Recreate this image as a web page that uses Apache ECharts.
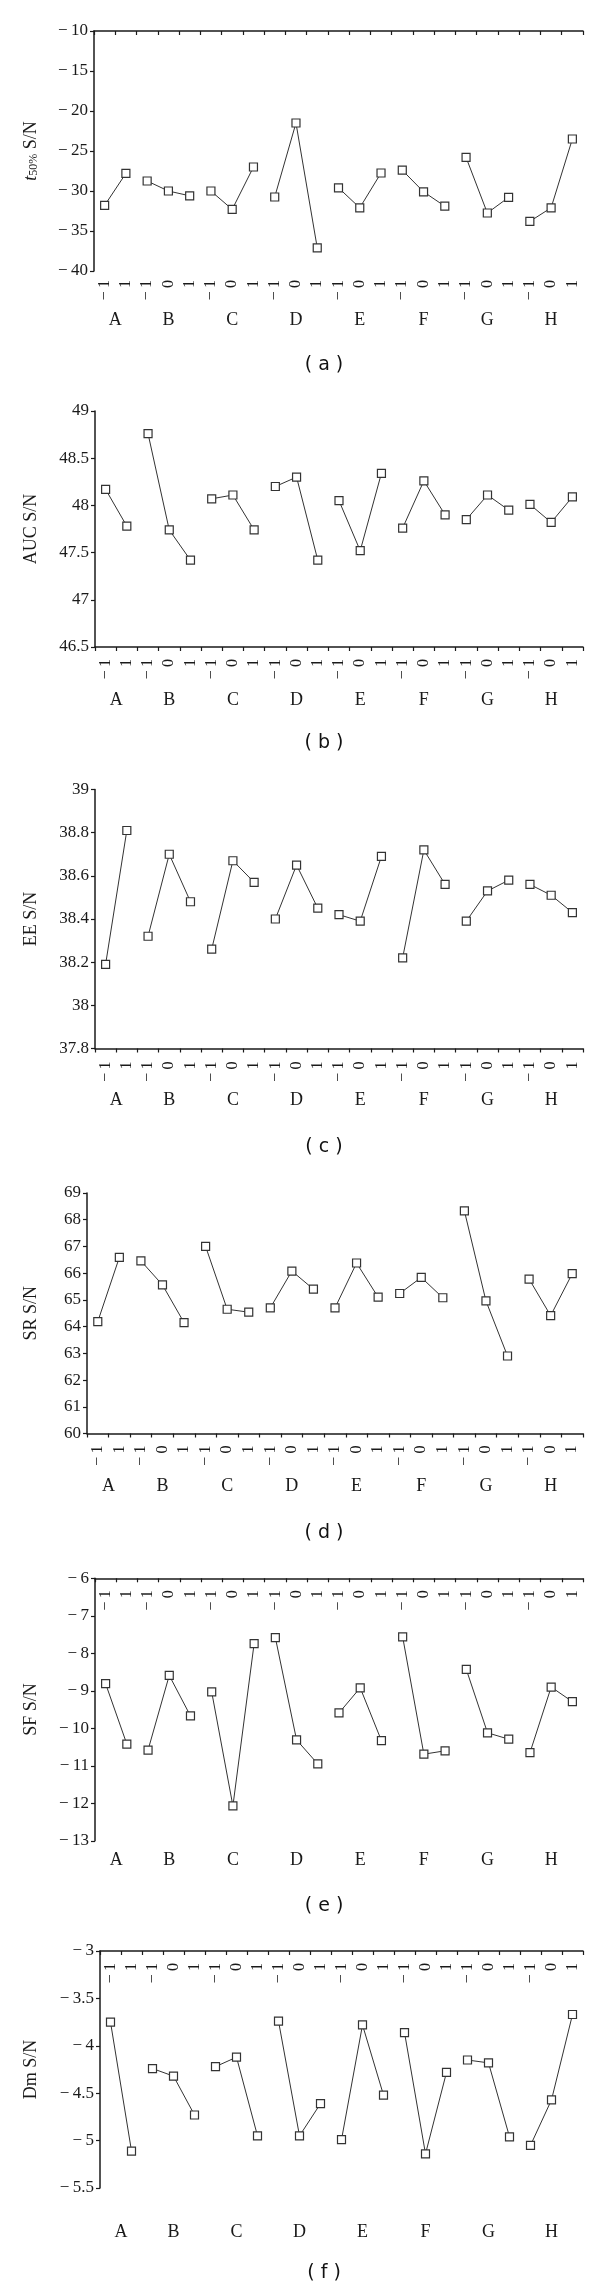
<!DOCTYPE html>
<html>
<head>
<meta charset="utf-8">
<script src="https://cdn.jsdelivr.net/npm/echarts@6/dist/echarts.min.js"></script>
<style>
  html, body { margin: 0; padding: 0; background: #fff; }
  #chart { width: 600px; height: 2292px; }
</style>
</head>
<body>
<div id="chart"></div>
<script>
// factors and their coded levels
const factors = ['A', 'B', 'C', 'D', 'E', 'F', 'G', 'H'];
const levelCodes = [
  [-1, 1],
  [-1, 0, 1],
  [-1, 0, 1],
  [-1, 0, 1],
  [-1, 0, 1],
  [-1, 0, 1],
  [-1, 0, 1],
  [-1, 0, 1]
];

// S/N ratio for each factor level (same order as the categories)
const t50SN = [-31.8, -27.8, -28.75, -30.0, -30.6, -30.0, -32.3, -27.0, -30.75, -21.5, -37.1, -29.6, -32.1, -27.75, -27.4, -30.1, -31.9, -25.8, -32.75, -30.8, -33.8, -32.1, -23.5];
const aucSN = [48.17, 47.78, 48.76, 47.74, 47.42, 48.07, 48.11, 47.74, 48.2, 48.3, 47.42, 48.05, 47.52, 48.34, 47.76, 48.26, 47.9, 47.85, 48.11, 47.95, 48.01, 47.82, 48.09];
const eeSN = [38.19, 38.81, 38.32, 38.7, 38.48, 38.26, 38.67, 38.57, 38.4, 38.65, 38.45, 38.42, 38.39, 38.69, 38.22, 38.72, 38.56, 38.39, 38.53, 38.58, 38.56, 38.51, 38.43];
const srSN = [64.19, 66.59, 66.46, 65.56, 64.15, 67.0, 64.65, 64.54, 64.7, 66.08, 65.4, 64.7, 66.38, 65.1, 65.24, 65.84, 65.08, 68.33, 64.96, 62.9, 65.78, 64.41, 65.98];
const sfSN = [-8.81, -10.42, -10.58, -8.59, -9.67, -9.03, -12.07, -7.74, -7.58, -10.31, -10.95, -9.59, -8.92, -10.33, -7.56, -10.69, -10.6, -8.43, -10.12, -10.29, -10.65, -8.9, -9.29];
const dmSN = [-3.75, -5.11, -4.24, -4.32, -4.73, -4.22, -4.12, -4.95, -3.74, -4.95, -4.61, -4.99, -3.78, -4.52, -3.86, -5.14, -4.28, -4.15, -4.18, -4.96, -5.05, -4.57, -3.67];

const SERIF = '"Liberation Serif", "DejaVu Serif", serif';
const INK = '#1a1a1a';
const MINUS = '\u2212\u2009';

const fmtNum = v => String(parseFloat(Number(v).toFixed(2))).replace('-', MINUS);
const categories = levelCodes.flat().map(fmtNum);

// where each factor's group starts on the category axis
const groupStart = [];
let acc = 0;
levelCodes.forEach(l => { groupStart.push(acc); acc += l.length; });
const letterCenters = levelCodes.map((l, g) => groupStart[g] + (l.length - 1) / 2);

// mode: 'low' = axis line on top, labels under plot; 'bottom' = normal; 'inside' = axis on top with labels under it
const panels = [
  { cap: '( a )', name: '{it|t}{sub|50%}{n| S/N}', values: t50SN, min: -40, max: -10, step: 5,
    left: 94, top: 31, bottom: 271, mode: 'low', labelMargin: 9, letterMargin: 40, capY: 365 },
  { cap: '( b )', name: 'AUC S/N', values: aucSN, min: 46.5, max: 49, step: 0.5,
    left: 95, top: 411, bottom: 647, mode: 'bottom', labelMargin: 12, letterMargin: 44, capY: 743 },
  { cap: '( c )', name: 'EE S/N', values: eeSN, min: 37.8, max: 39, step: 0.2,
    left: 95, top: 789.5, bottom: 1048.5, mode: 'bottom', labelMargin: 13, letterMargin: 43, capY: 1147 },
  { cap: '( d )', name: 'SR S/N', values: srSN, min: 60, max: 69, step: 1,
    left: 87, top: 1193, bottom: 1433.5, mode: 'bottom', labelMargin: 12, letterMargin: 44, capY: 1533 },
  { cap: '( e )', name: 'SF S/N', values: sfSN, min: -13, max: -6, step: 1,
    left: 95, top: 1578.3, bottom: 1840.8, mode: 'inside', labelMargin: 12, letterMargin: 10, capY: 1906 },
  { cap: '( f )', name: 'Dm S/N', values: dmSN, min: -5.5, max: -3, step: 0.5,
    left: 100, top: 1951, bottom: 2188, mode: 'inside', labelMargin: 12, letterMargin: 35, capY: 2273 }
];

const RIGHT = 583;
const grids = [], xAxes = [], yAxes = [], series = [], graphics = [];

// top axes mirror the rotation, so flip it there to keep text reading upwards
const catLabelStyle = (margin, onTop) => ({
  show: true, interval: 0, rotate: onTop ? -90 : 90, inside: !!onTop, margin,
  fontFamily: SERIF, fontSize: 16, color: INK
});

panels.forEach((p, i) => {
  grids.push({ left: p.left, top: p.top, width: RIGHT - p.left, height: p.bottom - p.top, containLabel: false, outerBoundsMode: 'none' });

  const lineAxis = {
    type: 'category', gridIndex: i, data: categories, boundaryGap: true,
    position: p.mode === 'bottom' ? 'bottom' : 'top',
    axisLine: { show: true, onZero: false, lineStyle: { color: INK, width: 1.5 } },
    axisTick: { show: true, interval: 0, inside: p.mode !== 'bottom', length: 4, lineStyle: { color: INK, width: 1.2 } },
    axisLabel: p.mode === 'low' ? { show: false } : catLabelStyle(p.labelMargin, p.mode === 'inside'),
    splitLine: { show: false }
  };
  const lineIdx = xAxes.length;
  xAxes.push(lineAxis);

  if (p.mode === 'low') {
    xAxes.push({
      type: 'category', gridIndex: i, data: categories, boundaryGap: true, position: 'bottom',
      axisLine: { show: false, onZero: false }, axisTick: { show: false },
      axisLabel: catLabelStyle(p.labelMargin, false), splitLine: { show: false }
    });
  }

  // factor letters under each group
  xAxes.push({
    type: 'value', gridIndex: i, position: 'bottom', min: -0.5, max: categories.length - 0.5,
    axisLine: { show: false, onZero: false }, axisTick: { show: false }, splitLine: { show: false },
    axisLabel: {
      show: true, margin: p.letterMargin, customValues: letterCenters,
      formatter: v => factors[letterCenters.indexOf(v)] || '',
      fontFamily: SERIF, fontSize: 18, color: INK
    }
  });

  yAxes.push({
    type: 'value', gridIndex: i, min: p.min, max: p.max, interval: p.step,
    name: p.name, nameLocation: 'middle', nameGap: p.left - 40,
    nameTextStyle: {
      fontFamily: SERIF, fontSize: 18, color: INK,
      rich: {
        it: { fontFamily: SERIF, fontSize: 18, fontStyle: 'italic', color: INK },
        sub: { fontFamily: SERIF, fontSize: 12, color: INK, verticalAlign: 'bottom' },
        n: { fontFamily: SERIF, fontSize: 18, color: INK }
      }
    },
    axisLine: { show: true, onZero: false, lineStyle: { color: INK, width: 1.5 } },
    axisTick: { show: true, length: 4, lineStyle: { color: INK, width: 1.2 } },
    axisLabel: { margin: 6, fontFamily: SERIF, fontSize: 17, color: INK, formatter: fmtNum },
    splitLine: { show: false }
  });

  levelCodes.forEach((lv, g) => {
    series.push({
      type: 'line', xAxisIndex: lineIdx, yAxisIndex: i,
      data: lv.map((_, k) => [groupStart[g] + k, p.values[groupStart[g] + k]]),
      symbol: 'rect', symbolSize: 8, showSymbol: true,
      lineStyle: { color: '#333', width: 1 },
      itemStyle: { color: '#fff', borderColor: '#333', borderWidth: 1.2 },
      silent: true, animation: false
    });
  });

  graphics.push({
    type: 'text', x: 324, y: p.capY,
    style: { text: p.cap, font: '19px "DejaVu Sans", sans-serif', fill: '#111', align: 'center', verticalAlign: 'middle' }
  });
});

const chart = echarts.init(document.getElementById('chart'), null, { renderer: 'canvas' });
chart.setOption({
  backgroundColor: '#fff',
  animation: false,
  grid: grids,
  xAxis: xAxes,
  yAxis: yAxes,
  series,
  graphic: graphics
});
</script>
</body>
</html>
